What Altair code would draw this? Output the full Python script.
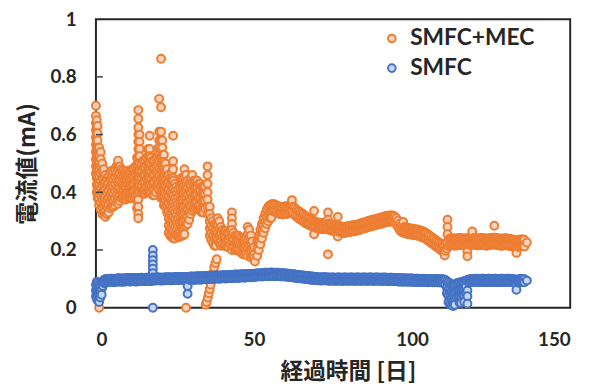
import altair as alt
import pandas as pd

SERIES = ["SMFC+MEC", "SMFC"]
STROKES = ["#ED7D31", "#4472C4"]
FILLS = ["#F9D3BD", "#C8D6F0"]
X_TICKS = [0, 50, 100, 150]
Y_TICKS = [0, 0.2, 0.4, 0.6, 0.8, 1]
Y_INNER_TICKS = [0.2, 0.4, 0.6, 0.8]

# SMFC+MEC current (mA): (day, [values read at that day])
mec_a = [
    (0.0, [.70, .665, .64, .615, .59, .565, .54, .515, .49, .465]),
    (0.25, [.65, .625, .60, .575, .55, .525, .50, .475, .45, .425, .40]),
    (0.5, [.63, .605, .58, .555, .53, .505, .48, .455, .43, .405, .38]),
    (1.0, [.555, .53, .505, .48, .455, .43, .405, .38, .355]),
    (1.5, [.54, .515, .49, .465, .44, .415, .39, .365, .34]),
    (2.0, [.50, .475, .45, .425, .40, .375, .35, .325]),
    (2.5, [.48, .455, .43, .405, .38, .355, .33]),
    (3.0, [.46, .435, .41, .385, .36, .335, .315]),
    (3.5, [.45, .425, .40, .375, .35, .325]),
    (4.0, [.455, .43, .405, .38, .355, .33]),
    (4.5, [.47, .445, .42, .395, .37, .345]),
    (5.0, [.475, .45, .425, .40, .375, .35]),
    (5.5, [.47, .445, .42, .395, .37, .35]),
    (6.0, [.48, .455, .43, .405, .38, .355]),
    (6.5, [.49, .465, .44, .415, .39, .365]),
    (7.0, [.51, .485, .46, .435, .41, .385, .36]),
    (7.5, [.49, .465, .44, .415, .39, .37]),
    (8.0, [.48, .455, .43, .405, .38]),
    (8.5, [.475, .45, .425, .40, .38]),
    (9.0, [.47, .445, .42, .395, .375]),
    (9.5, [.47, .445, .42, .395, .375]),
    (10.0, [.475, .45, .425, .40, .38]),
    (10.5, [.47, .445, .42, .40, .38]),
    (11.0, [.475, .45, .425, .40, .38]),
    (11.5, [.48, .455, .43, .405, .38]),
    (12.0, [.48, .455, .43, .405, .385]),
    (12.5, [.49, .465, .44, .415, .39]),
    (13.0, [.52, .495, .47, .445, .42, .395, .37, .345]),
    (13.4, [.685, .655, .625, .60, .575, .55, .525, .50, .475, .45, .425, .40, .375, .35, .325, .31]),
    (13.8, [.60, .575, .55, .525, .50, .475, .45, .425, .40]),
    (14.5, [.50, .475, .45, .425, .40]),
    (15.0, [.51, .485, .46, .435, .41, .395]),
    (15.5, [.51, .485, .46, .435, .41, .395]),
    (16.0, [.52, .495, .47, .445, .42, .40]),
    (16.5, [.55, .525, .50, .475, .45, .425, .40]),
    (17.0, [.596, .55, .525, .50, .475, .45, .425, .40]),
    (17.5, [.52, .495, .47, .445, .42, .40]),
    (18.0, [.51, .485, .46, .435, .41, .39]),
    (18.5, [.51, .485, .46, .435, .41, .39]),
    (19.0, [.52, .495, .47, .445, .42, .40]),
    (19.5, [.55, .525, .50, .475, .45, .425]),
]
mec_b = [
    (20.0, [.724, .61, .58, .555, .53, .505, .48, .455, .43, .405]),
    (20.6, [.863, .695, .61, .58, .55, .525, .50, .475, .45, .425, .40, .38]),
    (21.0, [.58, .555, .53, .505, .48, .455, .43, .405, .38]),
    (21.5, [.53, .505, .48, .455, .43, .405, .38, .355]),
    (22.0, [.50, .475, .45, .425, .40, .375, .35]),
    (22.5, [.48, .455, .43, .405, .38, .355, .33]),
    (23.0, [.46, .435, .41, .385, .36, .335, .31, .285, .26]),
    (23.5, [.45, .425, .40, .375, .35, .325, .30, .275, .25]),
    (24.0, [.47, .445, .42, .395, .37, .345, .32, .295, .27, .245]),
    (24.4, [.596, .508, .48, .45]),
    (24.5, [.44, .415, .39, .365, .34, .315, .29, .265, .24]),
    (25.0, [.43, .405, .38, .355, .33, .305, .28, .255, .24]),
    (25.5, [.42, .395, .37, .345, .32, .295, .27, .25]),
    (26.0, [.41, .385, .36, .335, .31, .285, .26, .245]),
    (26.5, [.42, .395, .37, .345, .32, .295, .27, .245]),
    (27.0, [.45, .425, .40, .375, .35, .325, .30, .275, .25]),
    (27.5, [.45, .425, .40, .375, .35, .325, .30, .275, .25]),
    (28.0, [.48, .455, .43, .405, .38, .355, .33, .305, .28, .255]),
    (28.5, [.46, .435, .41, .385, .36, .335, .31, .285]),
    (29.0, [.44, .415, .39, .365, .34, .315, .29]),
    (29.5, [.43, .405, .38, .355, .33, .305]),
    (30.0, [.45, .425, .40, .375, .35, .325]),
    (30.5, [.46, .435, .41, .385, .36, .335]),
    (31.0, [.44, .415, .39, .365, .34]),
    (31.5, [.44, .415, .39, .365, .345]),
    (32.0, [.44, .415, .39, .365, .345]),
    (32.5, [.43, .405, .38, .355, .34]),
    (33.0, [.43, .405, .38, .355, .335]),
    (33.5, [.42, .395, .37, .345, .33]),
    (34.0, [.42, .395, .37, .345, .33]),
    (34.5, [.42, .395, .37, .345]),
    (35.3, [.49, .46, .43, .40, .375, .35, .325]),
    (36.0, [.35, .325, .30, .275, .25]),
    (36.5, [.31, .285, .26, .235]),
    (37.0, [.30, .275, .25, .225]),
    (37.5, [.29, .265, .24, .215]),
    (38.0, [.29, .265, .24, .215]),
    (38.5, [.31, .285, .26, .235]),
    (39.0, [.30, .275, .25, .225]),
    (39.5, [.28, .255, .23, .215]),
    (40.0, [.27, .245, .22]),
    (40.5, [.265, .24, .215]),
    (41.0, [.265, .24, .215]),
    (41.5, [.26, .235, .21]),
    (42.0, [.26, .235, .21]),
    (42.5, [.27, .245, .22]),
    (43.0, [.33, .31, .29, .27, .25, .23, .21, .20]),
    (43.5, [.26, .235, .21]),
    (44.0, [.25, .225, .20]),
    (44.5, [.25, .225, .20]),
    (45.0, [.25, .225, .20]),
    (45.5, [.245, .22, .195]),
    (46.0, [.24, .215, .19]),
    (46.5, [.235, .21, .185]),
    (47.0, [.235, .21, .185]),
    (47.5, [.24, .215, .19]),
    (48.0, [.28, .255, .23, .205, .18]),
    (48.5, [.27, .245, .22, .195]),
    (49.0, [.25, .225, .20, .175]),
    (49.5, [.23, .205, .18]),
    (50.0, [.21, .185, .17]),
    (50.3, [.16]),
    (51.0, [.23, .205, .18]),
    (51.5, [.25, .225, .20]),
    (52.0, [.27, .245, .22]),
    (52.5, [.29, .265, .24]),
    (53.0, [.31, .285, .26]),
    (53.5, [.325, .30, .275]),
    (54.0, [.34, .315, .29]),
    (54.5, [.35, .325, .30]),
    (55.0, [.355, .33, .31]),
    (55.5, [.358, .333, .312]),
]
# SMFC+MEC, day 56 onward: (day, [upper, lower, extra points]) of the band
mec_c = [
    (56.0, [.360, .335]), (56.5, [.358, .333]), (57.0, [.355, .330]), (57.5, [.352, .327]),
    (58.0, [.350, .325]), (58.5, [.350, .326]), (59.0, [.348, .323]), (59.5, [.350, .325]),
    (60.0, [.352, .327]), (60.5, [.350, .325]), (61.0, [.352, .328]), (61.5, [.355, .330]),
    (62.0, [.356, .332, .373]), (62.5, [.350, .326]), (63.0, [.345, .320]), (63.5, [.340, .315]),
    (64.0, [.335, .310]), (64.5, [.332, .307]), (65.0, [.328, .303]), (65.5, [.325, .300]),
    (66.0, [.320, .295]), (66.5, [.316, .292]), (67.0, [.312, .289]), (67.5, [.310, .287]),
    (68.0, [.306, .284]), (68.5, [.303, .281]), (69.0, [.300, .278, .335, .255]),
    (69.5, [.298, .277]), (70.0, [.296, .275]), (70.5, [.295, .274]), (71.0, [.294, .273]),
    (71.5, [.293, .272]), (72.0, [.294, .273]), (72.5, [.295, .274]), (73.0, [.294, .273]),
    (73.4, [.33, .305, .185]), (73.5, [.292, .271]), (74.0, [.290, .269]), (74.5, [.288, .267]),
    (75.0, [.287, .266]), (75.5, [.286, .265]), (76.0, [.285, .264]), (76.5, [.284, .263, .315, .247]),
    (77.0, [.283, .262]), (77.5, [.282, .261]), (78.0, [.281, .260]), (78.5, [.280, .259]),
    (79.0, [.281, .260]), (79.5, [.282, .261]), (80.0, [.283, .262]), (80.5, [.284, .263]),
    (81.0, [.285, .264]), (81.5, [.286, .265]), (82.0, [.287, .266]), (82.5, [.288, .267]),
    (83.0, [.289, .268]), (83.5, [.291, .270]), (84.0, [.293, .272]), (84.5, [.295, .274]),
    (85.0, [.296, .275]), (85.5, [.298, .277]), (86.0, [.300, .279]), (86.5, [.302, .281]),
    (87.0, [.303, .282]), (87.5, [.305, .284]), (88.0, [.306, .285]), (88.5, [.307, .286]),
    (89.0, [.309, .288]), (89.5, [.310, .289]), (90.0, [.312, .291]), (90.5, [.313, .292]),
    (91.0, [.315, .294]), (91.5, [.317, .296]), (92.0, [.318, .297]), (92.5, [.319, .298]),
    (93.0, [.320, .299]), (93.5, [.320, .299]), (94.0, [.319, .298]), (94.5, [.316, .295]),
    (95.0, [.310, .289]), (95.5, [.302, .281]), (96.0, [.292, .271]), (96.5, [.285, .264]),
]
mec_d = [
    (97.0, [.282, .261]), (97.2, [.297]), (97.5, [.280, .259]), (98.0, [.278, .257]),
    (98.5, [.277, .256]), (99.0, [.276, .255]), (99.5, [.275, .254]), (100.0, [.274, .253]),
    (100.5, [.273, .252]), (101.0, [.272, .251]), (101.5, [.271, .250]), (102.0, [.270, .249]),
    (102.5, [.268, .247]), (103.0, [.266, .245]), (103.5, [.264, .243]), (104.0, [.262, .241]),
    (104.5, [.258, .237]), (105.0, [.254, .233]), (105.5, [.250, .229]), (106.0, [.246, .225]),
    (106.5, [.242, .221]), (107.0, [.238, .217]), (107.5, [.234, .213]), (108.0, [.230, .209]),
    (108.5, [.226, .205]), (109.0, [.222, .201]), (109.5, [.218, .197]), (110.0, [.214, .194]),
    (110.3, [.181]), (110.5, [.218, .197]), (111.0, [.226, .204]), (111.2, [.305, .28, .255]),
    (111.5, [.236, .213]), (112.0, [.240, .216]), (112.5, [.241, .217]), (113.0, [.240, .216]),
    (113.5, [.239, .215]), (114.0, [.240, .216]), (114.5, [.241, .217]), (115.0, [.242, .218]),
    (115.5, [.241, .217]), (116.0, [.240, .216]), (116.5, [.239, .215]), (117.0, [.240, .216]),
    (117.5, [.241, .217, .195, .178]), (118.0, [.242, .218]), (118.5, [.243, .219]),
    (119.0, [.243, .219, .264]), (119.5, [.242, .218]), (120.0, [.241, .217]),
    (120.5, [.240, .216]), (121.0, [.240, .216]), (121.5, [.241, .217]), (122.0, [.242, .218]),
    (122.5, [.241, .217]), (123.0, [.240, .216]), (123.5, [.239, .215]), (124.0, [.240, .216]),
    (124.5, [.241, .217]), (125.0, [.242, .218]), (125.5, [.243, .219]), (126.0, [.243, .219, .284]),
    (126.5, [.242, .218]), (127.0, [.241, .217]), (127.5, [.240, .216]), (128.0, [.239, .215]),
    (128.5, [.239, .215]), (129.0, [.240, .216]), (129.5, [.241, .217]), (130.0, [.240, .216]),
    (130.5, [.239, .215]), (131.0, [.238, .214]), (131.5, [.237, .213]), (132.0, [.236, .212]),
    (132.5, [.234, .210]), (133.0, [.232, .208, .19]), (133.5, [.234, .210]), (134.0, [.236, .212]),
    (134.5, [.237, .213]), (135.0, [.237, .213]), (135.5, [.236, .212]), (136.3, [.226]),
]
mec_low = [
    (1.0, [0.0]), (28.5, [0.0]),
    (34.7, [.01]), (35.0, [.02]), (35.4, [.035]), (35.7, [.05]), (36.0, [.065]),
    (36.3, [.08]), (36.6, [.10]), (37.0, [.12]), (37.4, [.14]), (37.8, [.155]), (38.2, [.168]),
]

# SMFC current (mA)
smfc_a = [
    (0.0, [.08, .06, .04]), (0.3, [.09, .07, .05, .03]), (0.6, [.085, .065, .045, .025]),
    (1.0, [.08, .06, .04, .02]), (1.4, [.075, .055, .035]), (1.8, [.085, .065, .045]),
    (2.2, [.09, .075]), (2.6, [.097, .085]),
    (3.0, [.099, .088]), (3.5, [.100, .089]), (4.0, [.100, .089]), (4.5, [.101, .090]),
    (5.0, [.101, .090]), (5.5, [.100, .089]), (6.0, [.100, .089]), (6.5, [.101, .090]),
    (7.0, [.102, .091]), (7.5, [.102, .091]), (8.0, [.101, .090]), (8.5, [.101, .090]),
    (9.0, [.102, .091]), (9.5, [.102, .091]), (10.0, [.103, .092]), (10.5, [.102, .091]),
    (11.0, [.102, .091]), (11.5, [.103, .092]), (12.0, [.103, .092]), (12.5, [.102, .091]),
    (13.0, [.102, .091]), (13.5, [.103, .092]), (14.0, [.103, .092]), (14.5, [.104, .093]),
    (15.0, [.103, .092]), (15.5, [.103, .092]), (16.0, [.104, .093]), (16.5, [.104, .093]),
    (17.0, [.103, .092]), (17.5, [.103, .092]),
    (18.0, [.20, .18, .165, .15, .135, .12, .105, .095, 0.0]),
    (18.5, [.104, .094]), (19.0, [.104, .094]), (19.5, [.105, .095]), (20.0, [.105, .095]),
    (20.5, [.104, .094]), (21.0, [.104, .094]), (21.5, [.105, .095]), (22.0, [.105, .095]),
    (22.5, [.106, .096]), (23.0, [.106, .096]), (23.5, [.105, .095]), (24.0, [.105, .095]),
    (24.5, [.106, .096]), (25.0, [.106, .096]), (25.5, [.107, .097]), (26.0, [.106, .096]),
    (26.5, [.106, .096]), (27.0, [.107, .097]), (27.5, [.107, .097]), (28.0, [.106, .096]),
    (28.5, [.106, .096]), (29.0, [.107, .097, .075, .048]),
    (29.5, [.107, .097]), (30.0, [.108, .097]), (30.5, [.108, .097]), (31.0, [.107, .096]),
    (31.5, [.108, .097]), (32.0, [.109, .098]), (32.5, [.109, .098]), (33.0, [.108, .097]),
    (33.5, [.109, .098]), (34.0, [.110, .099]), (34.5, [.110, .099]), (35.0, [.109, .098]),
    (35.5, [.110, .099]), (36.0, [.111, .100]), (36.5, [.111, .100]), (37.0, [.110, .099]),
    (37.5, [.111, .100]), (38.0, [.112, .101]), (38.5, [.112, .101]), (39.0, [.111, .100]),
    (39.5, [.112, .101]), (40.0, [.113, .102]),
]
smfc_b = [
    (40.5, [.113, .102]), (41.0, [.112, .101]), (41.5, [.113, .102]), (42.0, [.114, .103]),
    (42.5, [.114, .103]), (43.0, [.113, .102]), (43.5, [.114, .103]), (44.0, [.115, .104]),
    (44.5, [.115, .104]), (45.0, [.114, .103]), (45.5, [.115, .104]), (46.0, [.116, .105]),
    (46.5, [.116, .105]), (47.0, [.115, .104]), (47.5, [.116, .105]), (48.0, [.117, .106]),
    (48.5, [.117, .106]), (49.0, [.116, .105]), (49.5, [.117, .106]), (50.0, [.118, .107]),
    (50.5, [.118, .107]), (51.0, [.119, .108]), (51.5, [.120, .109]), (52.0, [.120, .109]),
    (52.5, [.119, .108]), (53.0, [.120, .109]), (53.5, [.121, .110]), (54.0, [.121, .110]),
    (54.5, [.120, .109]), (55.0, [.121, .110]), (55.5, [.122, .111]), (56.0, [.121, .110]),
    (56.5, [.120, .109]), (57.0, [.121, .110]), (57.5, [.121, .110]), (58.0, [.120, .109]),
    (58.5, [.120, .109]), (59.0, [.119, .108]), (59.5, [.120, .109]), (60.0, [.119, .108]),
    (60.5, [.118, .107]), (61.0, [.118, .107]), (61.5, [.117, .106]), (62.0, [.116, .105]),
    (62.5, [.116, .105]), (63.0, [.115, .104]), (63.5, [.114, .103]), (64.0, [.114, .103]),
    (64.5, [.113, .102]), (65.0, [.112, .101]), (65.5, [.112, .101]), (66.0, [.111, .100]),
    (66.5, [.110, .099]), (67.0, [.110, .099]), (67.5, [.109, .098]), (68.0, [.108, .097]),
    (68.5, [.108, .097]), (69.0, [.107, .096]), (69.5, [.107, .096]), (70.0, [.106, .095]),
]
smfc_c = [
    (70.5, [.106, .095]), (71.0, [.105, .094]), (71.5, [.105, .094]), (72.0, [.106, .095]),
    (72.5, [.106, .095]), (73.0, [.105, .094]), (73.5, [.105, .094]), (74.0, [.104, .093]),
    (74.5, [.105, .094]), (75.0, [.105, .094]), (75.5, [.104, .093]), (76.0, [.104, .093]),
    (76.5, [.105, .094]), (77.0, [.105, .094]), (77.5, [.104, .093]), (78.0, [.104, .093]),
    (78.5, [.105, .094]), (79.0, [.105, .094]), (79.5, [.104, .093]), (80.0, [.104, .093]),
    (80.5, [.105, .094]), (81.0, [.105, .094]), (81.5, [.104, .093]), (82.0, [.104, .093]),
    (82.5, [.105, .094]), (83.0, [.105, .094]), (83.5, [.104, .093]), (84.0, [.104, .093]),
    (84.5, [.105, .094]), (85.0, [.105, .094]), (85.5, [.104, .093]), (86.0, [.104, .093]),
    (86.5, [.105, .094]), (87.0, [.105, .094]), (87.5, [.104, .093]), (88.0, [.104, .093]),
    (88.5, [.105, .094]), (89.0, [.105, .094]), (89.5, [.104, .093]), (90.0, [.104, .093]),
    (90.5, [.104, .093]), (91.0, [.105, .094]), (91.5, [.104, .093]), (92.0, [.104, .093]),
    (92.5, [.103, .092]), (93.0, [.104, .093]), (93.5, [.104, .093]), (94.0, [.103, .092]),
    (94.5, [.103, .092]), (95.0, [.103, .092]), (95.5, [.102, .091]), (96.0, [.102, .091]),
    (96.5, [.102, .091]), (97.0, [.101, .090]), (97.5, [.102, .091]), (98.0, [.102, .091]),
    (98.5, [.101, .090]), (99.0, [.101, .090]), (99.5, [.102, .091]), (100.0, [.101, .090]),
    (100.5, [.101, .090]), (101.0, [.100, .089]), (101.5, [.101, .090]), (102.0, [.101, .090]),
    (102.5, [.100, .089]), (103.0, [.100, .089]), (103.5, [.101, .090]), (104.0, [.100, .089]),
    (104.5, [.100, .089]), (105.0, [.099, .088]), (105.5, [.100, .089]), (106.0, [.100, .089]),
    (106.5, [.099, .088]), (107.0, [.099, .088]), (107.5, [.100, .089]), (108.0, [.099, .088]),
    (108.5, [.099, .088]), (109.0, [.098, .087]), (109.5, [.099, .088]), (110.0, [.098, .087]),
]
smfc_d = [
    (110.5, [.096, .080]), (111.0, [.092, .070, .050]), (111.5, [.088, .065, .042, .02]),
    (112.0, [.084, .060, .036, .012]), (112.5, [.080, .056, .032, .008]),
    (113.0, [.078, .054, .030, .006]), (113.5, [.080, .056, .032, .01]),
    (114.0, [.084, .060, .036]), (114.5, [.086, .062, .040]), (115.0, [.088, .064, .040, .018]),
    (115.5, [.088, .064, .040, .016]), (116.0, [.090, .066, .044]),
    (116.5, [.092, .068, .044, .02]), (117.0, [.094, .072, .050]),
    (117.5, [.096, .060, .040, .014]), (118.0, [.098, .086]), (118.5, [.099, .088]),
    (119.0, [.100, .089]), (119.5, [.100, .089]), (120.0, [.101, .090]), (120.5, [.101, .090]),
    (121.0, [.100, .089]), (121.5, [.100, .089]), (122.0, [.101, .090]), (122.5, [.101, .090]),
    (123.0, [.100, .089]), (123.5, [.100, .089]), (124.0, [.101, .090]), (124.5, [.101, .090]),
    (125.0, [.100, .089]), (125.5, [.100, .089]), (126.0, [.101, .090]), (126.5, [.101, .090]),
    (127.0, [.100, .089]), (127.5, [.100, .089]), (128.0, [.101, .090]), (128.5, [.101, .090]),
    (129.0, [.100, .089]), (129.5, [.100, .089]), (130.0, [.101, .090]), (130.5, [.101, .090]),
    (131.0, [.100, .089]), (131.5, [.100, .089]), (132.0, [.099, .088]), (132.5, [.098, .087]),
    (133.0, [.096, .080, .062]), (133.5, [.098, .087]), (134.0, [.099, .088]),
    (134.5, [.100, .089]), (135.0, [.100, .089]), (135.5, [.099, .088]), (136.3, [.094]),
]

rows = []
for name, parts in ((SERIES[0], [mec_a, mec_b, mec_c, mec_d, mec_low]),
                    (SERIES[1], [smfc_a, smfc_b, smfc_c, smfc_d])):
    for part in parts:
        for day, vals in part:
            for v in vals:
                rows.append({"day": day, "ma": v, "series": name, "seq": len(rows)})
df = pd.DataFrame(rows)

LATIN = "Lato, 'Noto Sans CJK JP', sans-serif"
CJK = "'Noto Sans CJK JP', sans-serif"
TXT = "#262626"

legend = alt.Legend(
    title=None, orient="none", legendX=288, legendY=8,
    labelFont=LATIN, labelFontSize=23, labelFontWeight="bold", labelColor=TXT,
    symbolType="circle", symbolSize=60, symbolStrokeWidth=2, labelOffset=7,
    rowPadding=6, labelLimit=300,
)

xscale = alt.Scale(domain=[0, 150], nice=False, zero=False)
yscale = alt.Scale(domain=[0, 1], nice=False)

points = alt.Chart(df).mark_point(
    shape="circle", size=64, strokeWidth=2, opacity=1, filled=False, fillOpacity=1
).encode(
    x=alt.X("day:Q", scale=xscale, axis=alt.Axis(
        values=X_TICKS, domain=False, ticks=False, tickSize=0, grid=False,
        labelFont=LATIN, labelFontSize=19, labelFontWeight="bold", labelColor=TXT,
        labelPadding=23, title="経過時間 [日]", titleFont=CJK, titleFontSize=23,
        titleFontWeight="bold", titleColor=TXT, titlePadding=12, titleX=255,
    )),
    y=alt.Y("ma:Q", scale=yscale, axis=alt.Axis(
        values=Y_TICKS, format="~g", domain=False, ticks=False, tickSize=0, grid=False,
        labelFont=LATIN, labelFontSize=19, labelFontWeight="bold", labelColor=TXT,
        labelPadding=20, title="電流値(mA)", titleFont=CJK, titleFontSize=23,
        titleFontWeight="bold", titleColor=TXT, titlePadding=11,
    )),
    stroke=alt.Stroke("series:N", scale=alt.Scale(domain=SERIES, range=STROKES), legend=legend),
    fill=alt.Fill("series:N", scale=alt.Scale(domain=SERIES, range=FILLS), legend=legend),
    order=alt.Order("seq:Q"),
)

ticks = alt.Chart(pd.DataFrame({"v": Y_INNER_TICKS})).mark_rule(
    color="#404040", strokeWidth=1.5
).encode(
    y=alt.Y("v:Q", scale=yscale),
    x=alt.value(0),
    x2=alt.value(7),
)

chart = alt.layer(points, ticks).properties(
    width=480, height=292,
    autosize=alt.AutoSizeParams(type="none"),
    padding={"left": 89, "top": 9, "right": 16, "bottom": 86},
).configure_view(stroke="#262626", strokeWidth=2)

chart.save("out.html", embed_options={"renderer": "svg", "actions": False})
